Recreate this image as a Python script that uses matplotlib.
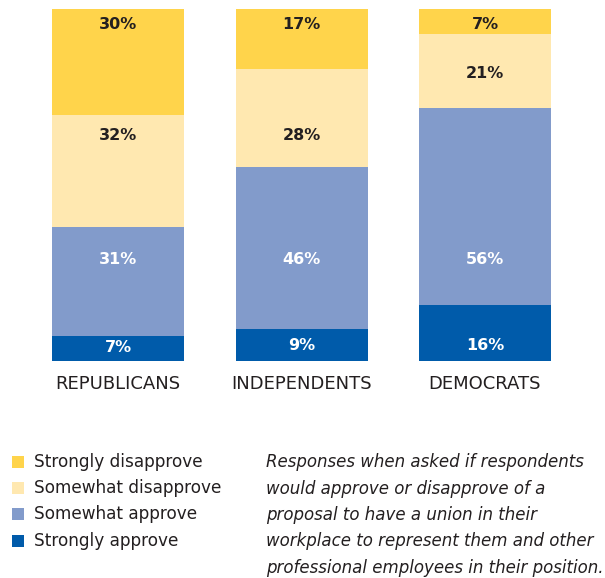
import matplotlib
matplotlib.use("Agg")
import matplotlib.pyplot as plt
from matplotlib.patches import Rectangle

categories = ["REPUBLICANS", "INDEPENDENTS", "DEMOCRATS"]
series_names = ["Strongly approve", "Somewhat approve", "Somewhat disapprove", "Strongly disapprove"]
strongly_approve = [7, 9, 16]
somewhat_approve = [31, 46, 56]
somewhat_disapprove = [32, 28, 21]
strongly_disapprove = [30, 17, 7]
note_lines = ["Responses when asked if respondents",
              "would approve or disapprove of a",
              "proposal to have a union in their",
              "workplace to represent them and other",
              "professional employees in their position."]

colors = ["#005BAA", "#829BCB", "#FFE8B0", "#FFD44B"]
text_colors = ["white", "white", "#231F20", "#231F20"]
# label anchor heights (percent from bottom) per series, per bar
label_y = [[3.7, 4.3, 4.5], [28.7, 28.7, 28.7], [64.2, 64.2, 81.8], [95.5, 95.6, 95.6]]

W, H = 605, 578
fig = plt.figure(figsize=(W / 100, H / 100), dpi=100)
font = "DejaVu Sans"

top_px, bot_px = 9, 361
c0, spacing = 118, 183.5
ax = fig.add_axes([0, (H - bot_px) / H, 1, (bot_px - top_px) / H])
ax.set_xlim(-c0 / spacing, (W - c0) / spacing)
ax.set_ylim(0, 100)
ax.axis("off")

series = [strongly_approve, somewhat_approve, somewhat_disapprove, strongly_disapprove]
x = list(range(len(categories)))
bottom = [0, 0, 0]
for i, vals in enumerate(series):
    ax.bar(x, vals, bottom=bottom, width=132 / spacing, color=colors[i], linewidth=0)
    for j, v in enumerate(vals):
        ax.text(x[j], label_y[i][j], f"{v}%", ha="center", va="center",
                fontsize=11.5, fontweight="bold", color=text_colors[i], family=font)
    bottom = [b + v for b, v in zip(bottom, vals)]

for j, c in enumerate(categories):
    xf = (c0 + spacing * j) / W
    fig.text(xf, 1 - 384 / H, c, ha="center", va="center", fontsize=13,
             color="#231F20", family=font)

legend_order = [3, 2, 1, 0]
rows = [462, 488, 514, 541]
for r, i in zip(rows, legend_order):
    fig.patches.append(Rectangle((12 / W, 1 - (r + 6) / H), 12 / W, 12 / H,
                                 transform=fig.transFigure, color=colors[i], lw=0))
    fig.text(34 / W, 1 - r / H, series_names[i], ha="left", va="center",
             fontsize=12.2, color="#231F20", family=font)

for k, line in enumerate(note_lines):
    fig.text(266 / W, 1 - (462 + 26.5 * k) / H, line, ha="left", va="center",
             fontsize=12, style="italic", color="#231F20", family=font)

fig.savefig("out.png", dpi=100)
